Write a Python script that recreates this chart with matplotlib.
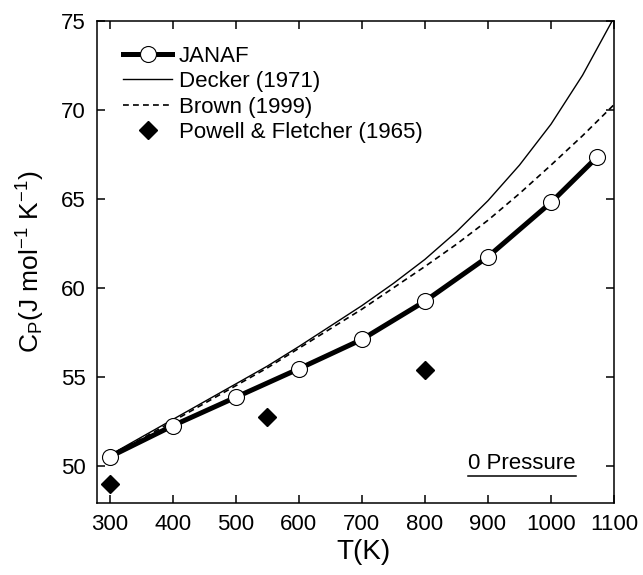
import matplotlib

matplotlib.use("Agg")
import matplotlib.pyplot as plt
from matplotlib.lines import Line2D

plt.rcParams["font.family"] = ["Liberation Sans", "DejaVu Sans"]
plt.rcParams["mathtext.default"] = "regular"

# JANAF tabulation (open circles, thick line)
janaf_t = [300, 400, 500, 600, 700, 800, 900, 1000, 1073]
janaf_cp = [50.5, 52.25, 53.85, 55.45, 57.1, 59.25, 61.75, 64.8, 67.35]

# Decker (1971) model curve
decker_t = [300, 350, 400, 450, 500, 550, 600, 650, 700, 750, 800, 850, 900, 950, 1000, 1050, 1100]
decker_cp = [50.6, 51.6, 52.6, 53.6, 54.6, 55.6, 56.7, 57.85, 59.0, 60.25, 61.6, 63.15,
             64.9, 66.9, 69.2, 71.95, 75.2]

# Brown (1999) model curve
brown_t = [300, 350, 400, 450, 500, 550, 600, 650, 700, 750, 800, 850, 900, 950, 1000, 1050, 1100]
brown_cp = [50.6, 51.5, 52.5, 53.5, 54.5, 55.5, 56.6, 57.7, 58.8, 60.0, 61.2, 62.45,
            63.8, 65.3, 66.9, 68.55, 70.3]

# Powell & Fletcher (1965) measurements
powell_t = [300, 550, 800]
powell_cp = [49.0, 52.75, 55.4]

x_ticks = [300, 400, 500, 600, 700, 800, 900, 1000, 1100]
y_ticks = [50, 55, 60, 65, 70, 75]

fig = plt.figure(figsize=(6.43, 5.75), dpi=100)
ax = fig.add_axes([0.151, 0.125, 0.804, 0.8385])

ax.plot(decker_t, decker_cp, color="black", lw=1.0, label="Decker (1971)")
ax.plot(brown_t, brown_cp, color="black", lw=1.2, dashes=(3.5, 2.5), label="Brown (1999)")
ax.plot(janaf_t, janaf_cp, color="black", lw=3.6, marker="o", ms=11.5,
        mfc="white", mec="black", mew=0.8, label="JANAF")
ax.plot(powell_t, powell_cp, ls="none", marker="D", ms=9.5, color="black",
        label="Powell & Fletcher (1965)")

ax.set_xlim(280, 1100)
ax.set_ylim(47.9, 75)
ax.set_xticks(x_ticks)
ax.set_yticks(y_ticks)
ax.tick_params(direction="in", length=6, width=1.1, top=True, right=True,
               labelsize=16, pad=8)
for spine in ax.spines.values():
    spine.set_linewidth(1.1)

ax.set_xlabel("T(K)", fontsize=20, labelpad=5)
ax.xaxis.set_label_coords(0.515, -0.075)
ax.set_ylabel("C$_P$(J mol$^{-1}$ K$^{-1}$)", fontsize=19, labelpad=10)

handles, labels = ax.get_legend_handles_labels()
order = [2, 0, 1, 3]
ax.legend([handles[i] for i in order], [labels[i] for i in order],
          loc="upper left", bbox_to_anchor=(0.012, 0.99), frameon=False,
          fontsize=16, numpoints=1, handlelength=2.2, handletextpad=0.3,
          labelspacing=0.2, borderaxespad=0.5)

txt = ax.text(0.822, 0.07, "0 Pressure", transform=ax.transAxes,
              ha="center", va="baseline", fontsize=16)

# underline for the "0 Pressure" note
fig.canvas.draw()
bb = txt.get_window_extent().transformed(fig.transFigure.inverted())
fig.add_artist(Line2D([bb.x0, bb.x1], [bb.y0 - 0.003, bb.y0 - 0.003],
                      transform=fig.transFigure, color="black", lw=1.1))

fig.savefig("out.png", dpi=100)
